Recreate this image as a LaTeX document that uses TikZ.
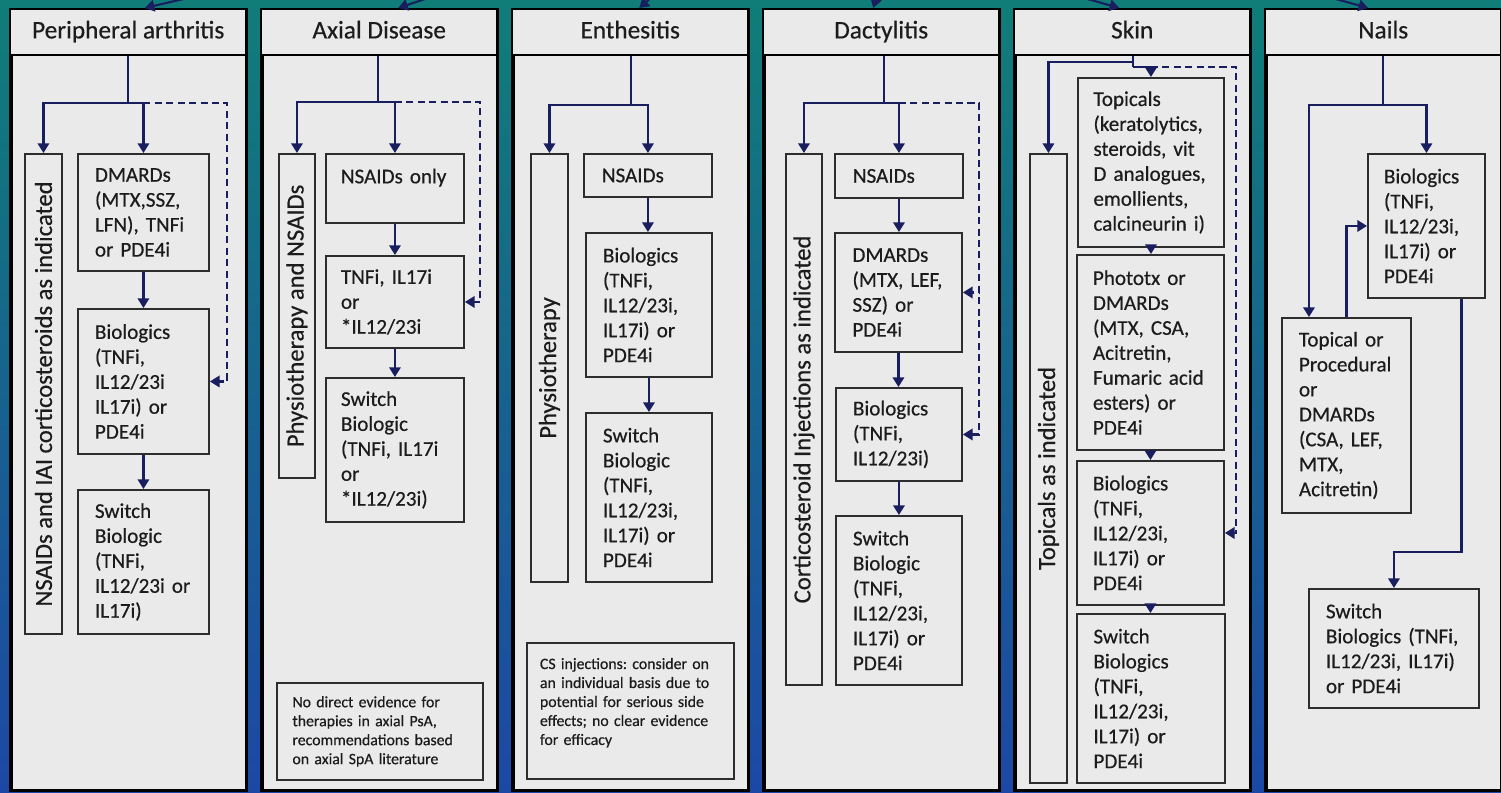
\documentclass[tikz,border=0pt]{standalone}
\usepackage{fontspec}
\usepackage{graphicx}
\setmainfont{Carlito}[FakeBold=0.5]
\usetikzlibrary{arrows.meta}
\definecolor{bgtop}{RGB}{16,125,120}
\definecolor{bgbot}{RGB}{28,72,165}
\definecolor{panelfill}{RGB}{234,234,234}
\definecolor{boxline}{RGB}{45,45,45}
\definecolor{navy}{RGB}{25,30,95}
\definecolor{inktext}{RGB}{28,28,28}
\frenchspacing

\begin{document}
\begin{tikzpicture}[x=0.02cm, y=-0.02cm,
  panel/.style={draw=black, line width=2pt, fill=panelfill, inner sep=0pt, anchor=north west, minimum width=4.72cm, minimum height=15.62cm},
  head/.style={draw=black, line width=1.4pt, fill=panelfill, inner sep=0pt, anchor=north west, minimum width=4.72cm, minimum height=0.92cm, text height=10pt, text depth=3pt, text=inktext, font=\fontsize{14.4}{17}\selectfont},
  box/.style={draw=boxline, line width=1.1pt, fill=panelfill, inner sep=0pt, anchor=north west, align=left, text=inktext, font=\fontsize{12}{14.2}\selectfont},
  sidebox/.style={draw=boxline, line width=1.1pt, fill=panelfill, inner sep=0pt, anchor=north west, text=inktext, font=\fontsize{14}{16}\selectfont},
  note/.style={box, font=\fontsize{9}{10.8}\selectfont},
  link/.style={draw=navy, line width=1.2pt},
  flow/.style={link, -{Triangle[width=6.5pt,length=5.5pt]}},
  recheck/.style={flow, dash pattern=on 4pt off 2.5pt}]
\useasboundingbox (0,0) rectangle (1501,792);
\clip (0,0) rectangle (1501,792);
\shade[top color=bgtop, bottom color=bgbot] (0,0) rectangle (1501,792);

% Peripheral arthritis
\node[panel] (p1) at (9,8) {};
\node[head] (h1) at (9,8) {Peripheral arthritis};
\node[sidebox, minimum width=0.74cm, minimum height=9.6cm] (s1) at (24,153) {\rotatebox{90}{NSAIDs and IAI corticosteroids as indicated}};
\node[box, text width=1.94cm, minimum width=2.62cm, minimum height=2.34cm] (dm1) at (77,153) {DMARDs\\(MTX,SSZ,\\LFN), TNFi\\or PDE4i};
\node[box, text width=1.94cm, minimum width=2.62cm, minimum height=2.9cm] (bio1) at (77,308) {Biologics\\(TNFi,\\IL12/23i\\IL17i) or\\PDE4i};
\node[box, text width=1.94cm, minimum width=2.62cm, minimum height=2.88cm] (sw1) at (77,489) {Switch\\Biologic\\(TNFi,\\IL12/23i or\\IL17i)};
\coordinate (j1) at (128,103);
\coordinate (r1) at (227,103);
\draw[link] (h1.south -| j1) -- (j1);
\draw[flow] (j1) -| (s1.north);
\draw[flow] (j1) -| (dm1.north);
\draw[recheck] (dm1.north |- j1) -- (r1) |- (bio1.east);
\draw[flow] (dm1.south) -- (bio1.north);
\draw[flow] (bio1.south) -- (sw1.north);

% Axial disease
\node[panel] (p2) at (260,8) {};
\node[head] (h2) at (260,8) {Axial Disease};
\node[sidebox, minimum width=0.72cm, minimum height=6.48cm] (s2) at (278,153) {\rotatebox{90}{Physiotherapy and NSAIDs}};
\node[box, text width=2.16cm, minimum width=2.76cm, minimum height=1.38cm] (ns2) at (325,153) {NSAIDs only\\\mbox{}};
\node[box, text width=2.16cm, minimum width=2.76cm, minimum height=1.84cm] (tn2) at (325,255) {TNFi, IL17i\\or\\{*}IL12/23i};
\node[box, text width=2.16cm, minimum width=2.76cm, minimum height=2.88cm] (sw2) at (325,377) {Switch\\Biologic\\(TNFi, IL17i\\or\\{*}IL12/23i)};
\node[note, text width=3.5cm, minimum width=4.12cm, minimum height=1.94cm] (n2) at (276,682) {No direct evidence for\\therapies in axial PsA,\\recommendations based\\on axial SpA literature};
\coordinate (j2) at (378,102);
\coordinate (r2) at (480,102);
\draw[link] (h2.south -| j2) -- (j2);
\draw[flow] (j2) -| (s2.north);
\draw[flow] (j2) -| (ns2.north);
\draw[recheck] (ns2.north |- j2) -- (r2) |- (tn2.east);
\draw[flow] (ns2.south) -- (tn2.north);
\draw[flow] (tn2.south) -- (sw2.north);

% Enthesitis
\node[panel] (p3) at (511,8) {};
\node[head] (h3) at (511,8) {Enthesitis};
\node[sidebox, minimum width=0.74cm, minimum height=8.56cm] (s3) at (530,153) {\rotatebox{90}{Physiotherapy}};
\node[box, text width=1.84cm, minimum width=2.56cm, minimum height=0.86cm] (ns3) at (583,153) {NSAIDs};
\node[box, text width=1.84cm, minimum width=2.52cm, minimum height=2.88cm] (bio3) at (585,232) {Biologics\\(TNFi,\\IL12/23i,\\IL17i) or\\PDE4i};
\node[box, text width=1.84cm, minimum width=2.52cm, minimum height=3.38cm] (sw3) at (585,412) {Switch\\Biologic\\(TNFi,\\IL12/23i,\\IL17i) or\\PDE4i};
\node[note, text width=3.62cm, minimum width=4.14cm, minimum height=2.72cm] (n3) at (526,642) {CS injections: consider on\\an individual basis due to\\potential for serious side\\effects; no clear evidence\\for efficacy\\\mbox{}};
\coordinate (j3) at (631,105);
\draw[link] (h3.south -| j3) -- (j3);
\draw[flow] (j3) -| (s3.north);
\draw[flow] (j3) -| (ns3.north);
\draw[flow] (ns3.south) -- (ns3.south |- bio3.north);
\draw[flow] (bio3.south) -- (sw3.north);

% Dactylitis
\node[panel] (p4) at (762,8) {};
\node[head] (h4) at (762,8) {Dactylitis};
\node[sidebox, minimum width=0.72cm, minimum height=10.62cm] (s4) at (785,153) {\rotatebox{90}{Corticosteroid Injections as indicated}};
\node[box, text width=1.84cm, minimum width=2.56cm, minimum height=0.88cm] (ns4) at (834,153) {NSAIDs};
\node[box, text width=1.84cm, minimum width=2.54cm, minimum height=2.38cm] (dm4) at (834,232) {DMARDs\\(MTX, LEF,\\SSZ) or\\PDE4i};
\node[box, text width=1.84cm, minimum width=2.52cm, minimum height=1.86cm] (bio4) at (835,387) {Biologics\\(TNFi,\\IL12/23i)};
\node[box, text width=1.84cm, minimum width=2.52cm, minimum height=3.38cm] (sw4) at (835,515) {Switch\\Biologic\\(TNFi,\\IL12/23i,\\IL17i) or\\PDE4i};
\coordinate (j4) at (884,103);
\coordinate (r4) at (979,103);
\draw[link] (h4.south -| j4) -- (j4);
\draw[flow] (j4) -| (s4.north);
\draw[flow] (j4) -| (ns4.north);
\draw[recheck] (ns4.north |- j4) -- (r4) |- (dm4.east);
\draw[recheck] (r4) |- (bio4.east);
\draw[flow] (ns4.south) -- (ns4.south |- dm4.north);
\draw[flow] (dm4.south) -- (dm4.south |- bio4.north);
\draw[flow] (bio4.south) -- (bio4.south |- sw4.north);

% Skin
\node[panel] (p5) at (1013,8) {};
\node[head] (h5) at (1013,8) {Skin};
\node[sidebox, minimum width=0.74cm, minimum height=12.58cm] (s5) at (1029,153) {\rotatebox{90}{Topicals as indicated}};
\node[box, text width=2.3cm, minimum width=2.92cm, minimum height=3.38cm] (tp5) at (1077,77) {Topicals\\(keratolytics,\\steroids, vit\\D analogues,\\emollients,\\calcineurin i)};
\node[box, text width=2.3cm, minimum width=2.94cm, minimum height=3.9cm] (ph5) at (1076,254) {Phototx or\\DMARDs\\(MTX, CSA,\\Acitretin,\\Fumaric acid\\esters) or\\PDE4i};
\node[box, text width=2.3cm, minimum width=2.94cm, minimum height=2.88cm] (bio5) at (1076,460) {Biologics\\(TNFi,\\IL12/23i,\\IL17i) or\\PDE4i};
\node[box, text width=2.3cm, minimum width=2.96cm, minimum height=3.38cm] (sw5) at (1076,613) {Switch\\Biologics\\(TNFi,\\IL12/23i,\\IL17i) or\\PDE4i};
\coordinate (j5) at (1133,62);
\coordinate (k5) at (1133,67);
\coordinate (r5) at (1236,67);
\draw[link] (h5.south -| j5) -- (k5);
\draw[flow] (j5) -| (s5.north);
\draw[flow] (k5) -| (tp5.north);
\draw[recheck] (tp5.north |- k5) -- (r5) |- (bio5.east);
\draw[flow] (tp5.south) -- (tp5.south |- ph5.north);
\draw[flow] (ph5.south) -- (ph5.south |- bio5.north);
\draw[flow] (bio5.south) -- (bio5.south |- sw5.north);

% Nails
\node[panel] (p6) at (1264,8) {};
\node[head] (h6) at (1264,8) {Nails};
\node[box, text width=1.7cm, minimum width=2.34cm, minimum height=2.88cm] (bio6) at (1367,153) {Biologics\\(TNFi,\\IL12/23i,\\IL17i) or\\PDE4i};
\node[box, text width=1.9cm, minimum width=2.58cm, minimum height=3.9cm] (tp6) at (1281,317) {Topical or\\Procedural\\or\\DMARDs\\(CSA, LEF,\\MTX,\\Acitretin)};
\node[box, text width=2.72cm, minimum width=3.4cm, minimum height=2.38cm] (sw6) at (1308,588) {Switch\\Biologics (TNFi,\\IL12/23i, IL17i)\\or PDE4i};
\coordinate (j6) at (1383,105);
\draw[link] (h6.south -| j6) -- (j6);
\draw[flow] (j6) -| (bio6.north);
\draw[flow] (j6) -| ([xshift=-0.75cm]tp6.north);
\draw[flow] (tp6.north) |- (bio6.west);
\draw[flow] ([xshift=0.7cm]bio6.south) -- ++(0,253) -| (sw6.north);

% arrows coming in from above
\coordinate (in1) at (205,-6);
\coordinate (in2) at (440,-6);
\coordinate (in3) at (660,-10);
\coordinate (in4) at (880,-14);
\coordinate (in5) at (1070,-6);
\coordinate (in6) at (1318,-6);
\draw[flow] (in1) -- ([xshift=0.33cm]h1.north);
\draw[flow] (in2) -- ([xshift=0.38cm]h2.north);
\draw[flow] (in3) -- ([xshift=0.18cm]h3.north);
\draw[flow] (in4) -- ([xshift=-0.16cm]h4.north);
\draw[flow] (in5) -- ([xshift=-0.26cm]h5.north);
\draw[flow] (in6) -- ([xshift=-0.3cm]h6.north);
\end{tikzpicture}
\end{document}
